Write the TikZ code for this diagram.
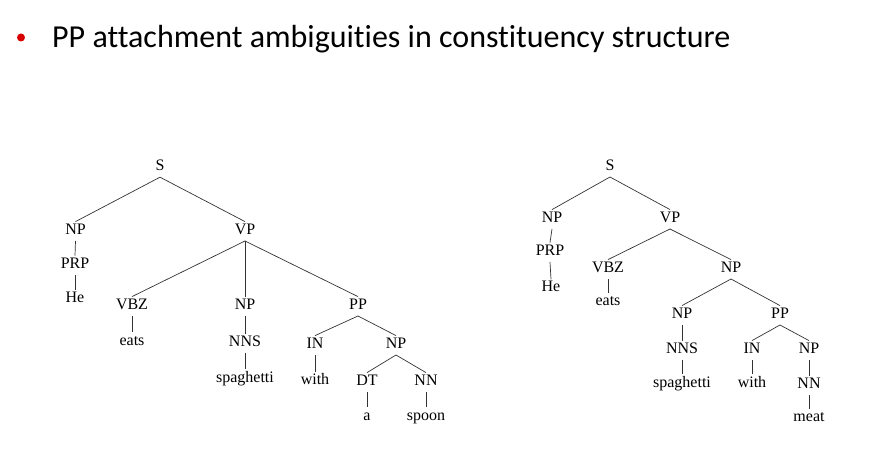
\documentclass[tikz,border=0pt]{standalone}
\usepackage{fontspec}
\setmainfont{Liberation Serif}
\newfontfamily\titlefont[Ligatures={NoCommon}]{Carlito}
\usetikzlibrary{positioning}
\tikzset{
  lbl/.style={font=\fontsize{16}{16}\selectfont, inner xsep=1pt, inner ysep=1.5pt,
    text height=11pt, text depth=5pt, anchor=base},
  br/.style={draw=black!80, line width=0.7pt}
}
\begin{document}
\begin{tikzpicture}[x=1pt,y=-1pt]
\useasboundingbox (0,0) rectangle (879,457);
\fill[red!85!black] (21,37.5) circle (4);
\node[font=\titlefont\fontsize{32}{32}\selectfont, anchor=base west, inner sep=0pt] (title) at (52,47.5) {PP attachment ambiguities in constituency structure};

% left tree: PP attached to VP
\node[lbl] (lS) at (160,170.5) {S};
\node[lbl] (lNP) at (75.5,234.3) {NP};
\node[lbl] (lVP) at (245,234.3) {VP};
\node[lbl] (lPRP) at (75,268.3) {PRP};
\node[lbl] (lHe) at (75,303) {He};
\node[lbl] (lVBZ) at (132,309.3) {VBZ};
\node[lbl] (lNPb) at (245,309.3) {NP};
\node[lbl] (lPP) at (358,309.3) {PP};
\node[lbl] (leats) at (132,345) {eats};
\node[lbl] (lNNS) at (245,346.3) {NNS};
\node[lbl] (lspag) at (245,382) {spaghetti};
\node[lbl] (lIN) at (315,348.3) {IN};
\node[lbl] (lNPc) at (396,348.3) {NP};
\node[lbl] (lwith) at (315,384.5) {with};
\node[lbl] (lDT) at (367,385.3) {DT};
\node[lbl] (lNN) at (426,385.3) {NN};
\node[lbl] (la) at (367,420) {a};
\node[lbl] (lspoon) at (426,420) {spoon};

\draw[br] (lS.south) -- (lNP.north);
\draw[br] (lS.south) -- (lVP.north);
\draw[br] (lNP.south) -- (lPRP.north);
\draw[br] (lPRP.south) -- (lHe.north);
\draw[br] (lVP.south) -- (lVBZ.north);
\draw[br] (lVP.south) -- (lNPb.north);
\draw[br] (lVP.south) -- (lPP.north);
\draw[br] (lVBZ.south) -- (leats.north);
\draw[br] (lNPb.south) -- (lNNS.north);
\draw[br] (lNNS.south) -- (lspag.north);
\draw[br] (lPP.south) -- (lIN.north);
\draw[br] (lPP.south) -- (lNPc.north);
\draw[br] (lIN.south) -- (lwith.north);
\draw[br] (lNPc.south) -- (lDT.north);
\draw[br] (lNPc.south) -- (lNN.north);
\draw[br] (lDT.south) -- (la.north);
\draw[br] (lNN.south) -- (lspoon.north);

% right tree: PP attached to NP
\node[lbl] (rS) at (610,170.3) {S};
\node[lbl] (rNP) at (552,222.3) {NP};
\node[lbl] (rVP) at (670,222.3) {VP};
\node[lbl] (rPRP) at (550,255.3) {PRP};
\node[lbl] (rHe) at (551,292) {He};
\node[lbl] (rVBZ) at (608,272.3) {VBZ};
\node[lbl] (rNPb) at (731,272.3) {NP};
\node[lbl] (reats) at (608,306) {eats};
\node[lbl] (rNPc) at (682,318.3) {NP};
\node[lbl] (rPP) at (780,318.3) {PP};
\node[lbl] (rNNS) at (682,353.3) {NNS};
\node[lbl] (rIN) at (752,353.3) {IN};
\node[lbl] (rNPd) at (809,353.3) {NP};
\node[lbl] (rspag) at (682,387) {spaghetti};
\node[lbl] (rwith) at (752,387) {with};
\node[lbl] (rNN) at (809,388.3) {NN};
\node[lbl] (rmeat) at (809,421.5) {meat};

\draw[br] (rS.south) -- (rNP.north);
\draw[br] (rS.south) -- (rVP.north);
\draw[br] (rNP.south) -- (rPRP.north);
\draw[br] (rPRP.south) -- (rHe.north);
\draw[br] (rVP.south) -- (rVBZ.north);
\draw[br] (rVP.south) -- (rNPb.north);
\draw[br] (rVBZ.south) -- (reats.north);
\draw[br] (rNPb.south) -- (rNPc.north);
\draw[br] (rNPb.south) -- (rPP.north);
\draw[br] (rNPc.south) -- (rNNS.north);
\draw[br] (rNNS.south) -- (rspag.north);
\draw[br] (rPP.south) -- (rIN.north);
\draw[br] (rPP.south) -- (rNPd.north);
\draw[br] (rIN.south) -- (rwith.north);
\draw[br] (rNPd.south) -- (rNN.north);
\draw[br] (rNN.south) -- (rmeat.north);

\end{tikzpicture}
\end{document}
